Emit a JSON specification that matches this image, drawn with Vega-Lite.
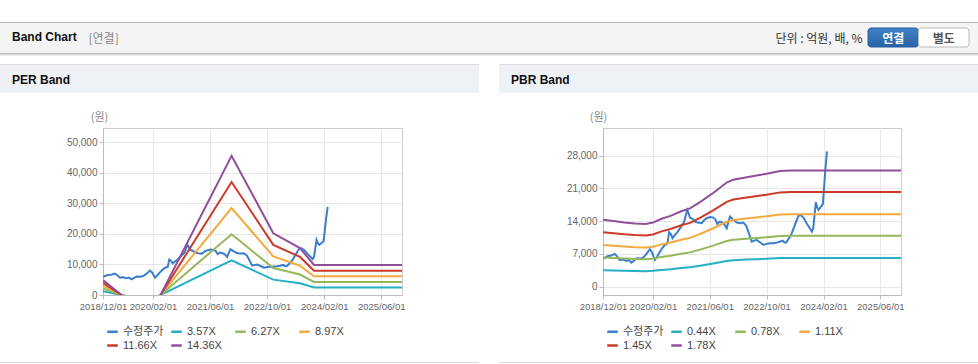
{
  "$schema": "https://vega.github.io/schema/vega-lite/v6.json",
  "background": "#ffffff",
  "padding": {"left": 0, "top": 22, "right": 0, "bottom": 0},
  "spacing": 0,
  "bounds": "flush",
  "resolve": {"scale": {"color": "independent"}, "legend": {"color": "independent"}},
  "config": {
    "view": {"stroke": null},
    "font": "Liberation Sans",
    "title": {"anchor": "start", "frame": "group"}
  },
  "datasets": {
    "price": [
      {"d": "2018-12-01", "v": 6000}, {"d": "2018-12-25", "v": 6300}, {"d": "2019-01-13", "v": 6570}, {"d": "2019-02-10", "v": 6650},
      {"d": "2019-03-11", "v": 7000}, {"d": "2019-03-28", "v": 6600}, {"d": "2019-04-23", "v": 5720}, {"d": "2019-05-20", "v": 5800},
      {"d": "2019-06-20", "v": 5500}, {"d": "2019-07-10", "v": 5700}, {"d": "2019-08-02", "v": 5140}, {"d": "2019-08-25", "v": 5600},
      {"d": "2019-09-14", "v": 6080}, {"d": "2019-10-15", "v": 6000}, {"d": "2019-11-09", "v": 6210}, {"d": "2019-12-05", "v": 6900},
      {"d": "2020-01-06", "v": 8000}, {"d": "2020-01-25", "v": 7300}, {"d": "2020-02-18", "v": 5720}, {"d": "2020-03-05", "v": 6300},
      {"d": "2020-03-25", "v": 7150}, {"d": "2020-04-20", "v": 8200}, {"d": "2020-05-13", "v": 8930}, {"d": "2020-06-05", "v": 9200},
      {"d": "2020-06-19", "v": 11640}, {"d": "2020-07-05", "v": 11200}, {"d": "2020-07-18", "v": 10360}, {"d": "2020-08-05", "v": 11000},
      {"d": "2020-08-27", "v": 11560}, {"d": "2020-09-15", "v": 12300}, {"d": "2020-10-04", "v": 13000}, {"d": "2020-10-25", "v": 13800},
      {"d": "2020-11-21", "v": 16420}, {"d": "2020-12-01", "v": 15800}, {"d": "2020-12-14", "v": 14770}, {"d": "2021-01-05", "v": 14500},
      {"d": "2021-01-26", "v": 13920}, {"d": "2021-02-20", "v": 13700}, {"d": "2021-03-24", "v": 13570}, {"d": "2021-04-15", "v": 14200},
      {"d": "2021-05-06", "v": 14640}, {"d": "2021-06-05", "v": 14900}, {"d": "2021-07-02", "v": 14770}, {"d": "2021-07-20", "v": 14400},
      {"d": "2021-08-05", "v": 13420}, {"d": "2021-08-25", "v": 13900}, {"d": "2021-09-12", "v": 13790}, {"d": "2021-10-05", "v": 13300},
      {"d": "2021-10-25", "v": 12500}, {"d": "2021-11-05", "v": 13500}, {"d": "2021-11-22", "v": 14990}, {"d": "2021-12-05", "v": 14700},
      {"d": "2021-12-20", "v": 14280}, {"d": "2022-01-20", "v": 13700}, {"d": "2022-02-16", "v": 13570}, {"d": "2022-03-16", "v": 13700},
      {"d": "2022-04-10", "v": 13000}, {"d": "2022-04-28", "v": 11780}, {"d": "2022-05-15", "v": 10500}, {"d": "2022-05-27", "v": 9630},
      {"d": "2022-06-15", "v": 9800}, {"d": "2022-07-09", "v": 10000}, {"d": "2022-08-05", "v": 9500}, {"d": "2022-09-04", "v": 8930},
      {"d": "2022-10-01", "v": 9150}, {"d": "2022-10-31", "v": 9290}, {"d": "2022-12-01", "v": 9300}, {"d": "2022-12-28", "v": 9420},
      {"d": "2023-01-20", "v": 9600}, {"d": "2023-02-17", "v": 9850}, {"d": "2023-03-01", "v": 9500}, {"d": "2023-03-17", "v": 9420},
      {"d": "2023-04-10", "v": 10300}, {"d": "2023-05-05", "v": 11430}, {"d": "2023-06-01", "v": 13200}, {"d": "2023-07-01", "v": 15140},
      {"d": "2023-07-20", "v": 15300}, {"d": "2023-08-13", "v": 14770}, {"d": "2023-09-10", "v": 13500}, {"d": "2023-10-24", "v": 11780},
      {"d": "2023-11-05", "v": 12500}, {"d": "2023-11-27", "v": 18070}, {"d": "2023-12-08", "v": 17000}, {"d": "2023-12-20", "v": 16420},
      {"d": "2024-01-10", "v": 17100}, {"d": "2024-01-26", "v": 17640}, {"d": "2024-02-05", "v": 21000}, {"d": "2024-02-15", "v": 24620},
      {"d": "2024-03-01", "v": 28900}
    ],
    "per": [
      {"d": "2018-12-01", "s": "3.57X", "v": 1214}, {"d": "2018-12-01", "s": "6.27X", "v": 2132}, {"d": "2018-12-01", "s": "8.97X", "v": 3050}, {"d": "2018-12-01", "s": "11.66X", "v": 3964}, {"d": "2018-12-01", "s": "14.36X", "v": 4882},
      {"d": "2019-08-01", "s": "3.57X", "v": -664}, {"d": "2019-08-01", "s": "6.27X", "v": -1166}, {"d": "2019-08-01", "s": "8.97X", "v": -1668}, {"d": "2019-08-01", "s": "11.66X", "v": -2169}, {"d": "2019-08-01", "s": "14.36X", "v": -2671},
      {"d": "2020-01-01", "s": "3.57X", "v": -1778}, {"d": "2020-01-01", "s": "6.27X", "v": -3122}, {"d": "2020-01-01", "s": "8.97X", "v": -4467}, {"d": "2020-01-01", "s": "11.66X", "v": -5807}, {"d": "2020-01-01", "s": "14.36X", "v": -7151},
      {"d": "2021-12-02", "s": "3.57X", "v": 11335}, {"d": "2021-12-02", "s": "6.27X", "v": 19907}, {"d": "2021-12-02", "s": "8.97X", "v": 28480}, {"d": "2021-12-02", "s": "11.66X", "v": 37021}, {"d": "2021-12-02", "s": "14.36X", "v": 45593},
      {"d": "2022-11-23", "s": "3.57X", "v": 5030}, {"d": "2022-11-23", "s": "6.27X", "v": 8834}, {"d": "2022-11-23", "s": "8.97X", "v": 12639}, {"d": "2022-11-23", "s": "11.66X", "v": 16429}, {"d": "2022-11-23", "s": "14.36X", "v": 20233},
      {"d": "2023-07-09", "s": "3.57X", "v": 3820}, {"d": "2023-07-09", "s": "6.27X", "v": 6709}, {"d": "2023-07-09", "s": "8.97X", "v": 9598}, {"d": "2023-07-09", "s": "11.66X", "v": 12476}, {"d": "2023-07-09", "s": "14.36X", "v": 15365},
      {"d": "2023-11-05", "s": "3.57X", "v": 2445}, {"d": "2023-11-05", "s": "6.27X", "v": 4295}, {"d": "2023-11-05", "s": "8.97X", "v": 6144}, {"d": "2023-11-05", "s": "11.66X", "v": 7987}, {"d": "2023-11-05", "s": "14.36X", "v": 9837},
      {"d": "2025-11-25", "s": "3.57X", "v": 2445}, {"d": "2025-11-25", "s": "6.27X", "v": 4295}, {"d": "2025-11-25", "s": "8.97X", "v": 6144}, {"d": "2025-11-25", "s": "11.66X", "v": 7987}, {"d": "2025-11-25", "s": "14.36X", "v": 9837}
    ],
    "pbr": [
      {"d": "2018-12-01", "s": "0.44X", "v": 3533}, {"d": "2018-12-01", "s": "0.78X", "v": 6263}, {"d": "2018-12-01", "s": "1.11X", "v": 8913}, {"d": "2018-12-01", "s": "1.45X", "v": 11644}, {"d": "2018-12-01", "s": "1.78X", "v": 14293},
      {"d": "2019-03-01", "s": "0.44X", "v": 3467}, {"d": "2019-03-01", "s": "0.78X", "v": 6146}, {"d": "2019-03-01", "s": "1.11X", "v": 8747}, {"d": "2019-03-01", "s": "1.45X", "v": 11426}, {"d": "2019-03-01", "s": "1.78X", "v": 14026},
      {"d": "2019-06-01", "s": "0.44X", "v": 3397}, {"d": "2019-06-01", "s": "0.78X", "v": 6022}, {"d": "2019-06-01", "s": "1.11X", "v": 8569}, {"d": "2019-06-01", "s": "1.45X", "v": 11194}, {"d": "2019-06-01", "s": "1.78X", "v": 13742},
      {"d": "2019-09-01", "s": "0.44X", "v": 3344}, {"d": "2019-09-01", "s": "0.78X", "v": 5928}, {"d": "2019-09-01", "s": "1.11X", "v": 8436}, {"d": "2019-09-01", "s": "1.45X", "v": 11020}, {"d": "2019-09-01", "s": "1.78X", "v": 13528},
      {"d": "2019-12-01", "s": "0.44X", "v": 3318}, {"d": "2019-12-01", "s": "0.78X", "v": 5881}, {"d": "2019-12-01", "s": "1.11X", "v": 8369}, {"d": "2019-12-01", "s": "1.45X", "v": 10933}, {"d": "2019-12-01", "s": "1.78X", "v": 13421},
      {"d": "2020-02-01", "s": "0.44X", "v": 3388}, {"d": "2020-02-01", "s": "0.78X", "v": 6006}, {"d": "2020-02-01", "s": "1.11X", "v": 8547}, {"d": "2020-02-01", "s": "1.45X", "v": 11165}, {"d": "2020-02-01", "s": "1.78X", "v": 13706},
      {"d": "2020-04-15", "s": "0.44X", "v": 3586}, {"d": "2020-04-15", "s": "0.78X", "v": 6357}, {"d": "2020-04-15", "s": "1.11X", "v": 9047}, {"d": "2020-04-15", "s": "1.45X", "v": 11818}, {"d": "2020-04-15", "s": "1.78X", "v": 14507},
      {"d": "2020-07-01", "s": "0.44X", "v": 3740}, {"d": "2020-07-01", "s": "0.78X", "v": 6630}, {"d": "2020-07-01", "s": "1.11X", "v": 9435}, {"d": "2020-07-01", "s": "1.45X", "v": 12325}, {"d": "2020-07-01", "s": "1.78X", "v": 15130},
      {"d": "2020-10-01", "s": "0.44X", "v": 3982}, {"d": "2020-10-01", "s": "0.78X", "v": 7059}, {"d": "2020-10-01", "s": "1.11X", "v": 10046}, {"d": "2020-10-01", "s": "1.45X", "v": 13123}, {"d": "2020-10-01", "s": "1.78X", "v": 16109},
      {"d": "2020-12-15", "s": "0.44X", "v": 4136}, {"d": "2020-12-15", "s": "0.78X", "v": 7332}, {"d": "2020-12-15", "s": "1.11X", "v": 10434}, {"d": "2020-12-15", "s": "1.45X", "v": 13630}, {"d": "2020-12-15", "s": "1.78X", "v": 16732},
      {"d": "2021-03-10", "s": "0.44X", "v": 4466}, {"d": "2021-03-10", "s": "0.78X", "v": 7917}, {"d": "2021-03-10", "s": "1.11X", "v": 11267}, {"d": "2021-03-10", "s": "1.45X", "v": 14718}, {"d": "2021-03-10", "s": "1.78X", "v": 18067},
      {"d": "2021-07-01", "s": "0.44X", "v": 4950}, {"d": "2021-07-01", "s": "0.78X", "v": 8775}, {"d": "2021-07-01", "s": "1.11X", "v": 12488}, {"d": "2021-07-01", "s": "1.45X", "v": 16313}, {"d": "2021-07-01", "s": "1.78X", "v": 20025},
      {"d": "2021-10-25", "s": "0.44X", "v": 5500}, {"d": "2021-10-25", "s": "0.78X", "v": 9750}, {"d": "2021-10-25", "s": "1.11X", "v": 13875}, {"d": "2021-10-25", "s": "1.45X", "v": 18125}, {"d": "2021-10-25", "s": "1.78X", "v": 22250},
      {"d": "2021-12-20", "s": "0.44X", "v": 5654}, {"d": "2021-12-20", "s": "0.78X", "v": 10023}, {"d": "2021-12-20", "s": "1.11X", "v": 14264}, {"d": "2021-12-20", "s": "1.45X", "v": 18633}, {"d": "2021-12-20", "s": "1.78X", "v": 22873},
      {"d": "2022-04-15", "s": "0.44X", "v": 5786}, {"d": "2022-04-15", "s": "0.78X", "v": 10257}, {"d": "2022-04-15", "s": "1.11X", "v": 14597}, {"d": "2022-04-15", "s": "1.45X", "v": 19068}, {"d": "2022-04-15", "s": "1.78X", "v": 23407},
      {"d": "2022-10-01", "s": "0.44X", "v": 5962}, {"d": "2022-10-01", "s": "0.78X", "v": 10569}, {"d": "2022-10-01", "s": "1.11X", "v": 15041}, {"d": "2022-10-01", "s": "1.45X", "v": 19648}, {"d": "2022-10-01", "s": "1.78X", "v": 24119},
      {"d": "2023-01-25", "s": "0.44X", "v": 6116}, {"d": "2023-01-25", "s": "0.78X", "v": 10842}, {"d": "2023-01-25", "s": "1.11X", "v": 15429}, {"d": "2023-01-25", "s": "1.45X", "v": 20155}, {"d": "2023-01-25", "s": "1.78X", "v": 24742},
      {"d": "2023-05-01", "s": "0.44X", "v": 6138}, {"d": "2023-05-01", "s": "0.78X", "v": 10881}, {"d": "2023-05-01", "s": "1.11X", "v": 15485}, {"d": "2023-05-01", "s": "1.45X", "v": 20228}, {"d": "2023-05-01", "s": "1.78X", "v": 24831},
      {"d": "2025-11-25", "s": "0.44X", "v": 6138}, {"d": "2025-11-25", "s": "0.78X", "v": 10881}, {"d": "2025-11-25", "s": "1.11X", "v": 15485}, {"d": "2025-11-25", "s": "1.45X", "v": 20228}, {"d": "2025-11-25", "s": "1.78X", "v": 24831}
    ]
  },
  "vconcat": [
    {"width": 978, "height": 1, "view": {"fill": "#b7b7b7"}, "data": {"values": []}, "mark": "rect"},
    {
      "width": 978, "height": 30,
      "view": {"fill": "#f4f4f4"},
      "title": {"text": "Band Chart", "offset": -21, "dx": 12, "fontSize": 12, "fontWeight": "bold", "color": "#111111", "font": "Liberation Sans"},
      "layer": [
        {
          "data": {"values": [{"btn": "연결"}]},
          "mark": {"type": "rect", "cornerRadius": 3, "stroke": "#2a5e9b", "strokeWidth": 1,
            "fill": {"gradient": "linear", "x1": 0, "y1": 0, "x2": 0, "y2": 1, "stops": [{"offset": 0, "color": "#3f82c8"}, {"offset": 1, "color": "#2962a4"}]}},
          "encoding": {
            "x": {"field": "btn", "type": "nominal",
              "scale": {"domain": ["연결", "별도"], "range": [868, 969], "paddingInner": 0, "paddingOuter": 0},
              "axis": {"orient": "bottom", "offset": -15, "domain": false, "ticks": false, "tickSize": 0, "grid": false,
                "labelPadding": 0, "labelAngle": 0, "labelBaseline": "middle", "labelFont": "Noto Sans CJK KR", "labelFontSize": 12, "labelFontWeight": "bold",
                "labelColor": {"condition": {"test": "datum.value === '연결'", "value": "#ffffff"}, "value": "#555555"},
                "zindex": 2,
                "title": "단위 : 억원, 배, %", "titleX": 862, "titleY": 0, "titleAlign": "right", "titleBaseline": "middle", "titleAngle": 0,
                "titleFont": "Noto Sans CJK KR", "titleFontSize": 12, "titleFontWeight": "normal", "titleColor": "#333333"}},
            "y": {"datum": "b", "type": "nominal",
              "scale": {"range": [5, 24], "paddingInner": 0, "paddingOuter": 0},
              "axis": {"domain": false, "ticks": false, "labels": false, "grid": false,
                "title": "[연결]", "titleAngle": 0, "titleX": 88, "titleY": 15, "titleAlign": "left", "titleBaseline": "middle",
                "titleFont": "Noto Sans CJK KR", "titleFontSize": 12, "titleFontWeight": "normal", "titleColor": "#888888"}}
          }
        },
        {
          "data": {"values": [{"btn": "별도"}]},
          "mark": {"type": "rect", "cornerRadius": 3, "fill": "#ffffff", "stroke": "#b9b9b9", "strokeWidth": 1},
          "encoding": {
            "x": {"field": "btn", "type": "nominal"},
            "y": {"datum": "b", "type": "nominal"}
          }
        }
      ]
    },
    {"width": 978, "height": 1, "view": {"fill": "#bdbdbd"}, "data": {"values": []}, "mark": "rect"},
    {"width": 978, "height": 1, "view": {"fill": "#d9d9d9"}, "data": {"values": []}, "mark": "rect"},
    {"width": 978, "height": 1, "view": {"fill": "#ededed"}, "data": {"values": []}, "mark": "rect"},
    {"width": 978, "height": 8, "data": {"values": []}, "mark": "rect"},
    {
      "hconcat": [
        {"width": 479, "height": 1, "view": {"fill": "#dddddd"}, "data": {"values": []}, "mark": "rect"},
        {"width": 20, "height": 1, "data": {"values": []}, "mark": "rect"},
        {"width": 479, "height": 1, "view": {"fill": "#dddddd"}, "data": {"values": []}, "mark": "rect"}
      ],
      "spacing": 0, "bounds": "flush"
    },
    {"width": 978, "height": 1, "data": {"values": []}, "mark": "rect"},
    {
      "hconcat": [
        {"width": 479, "height": 28, "view": {"fill": "#eef2f7"},
          "title": {"text": "PER Band", "offset": -22, "dx": 12, "fontSize": 12, "fontWeight": "bold", "color": "#111111", "font": "Liberation Sans"},
          "data": {"values": []}, "mark": "rect"},
        {"width": 20, "height": 28, "data": {"values": []}, "mark": "rect"},
        {"width": 479, "height": 28, "view": {"fill": "#eef2f7"},
          "title": {"text": "PBR Band", "offset": -22, "dx": 12, "fontSize": 12, "fontWeight": "bold", "color": "#111111", "font": "Liberation Sans"},
          "data": {"values": []}, "mark": "rect"}
      ],
      "spacing": 0, "bounds": "flush"
    },
    {"width": 978, "height": 63, "data": {"values": []}, "mark": "rect"},
    {
      "hconcat": [
        {"width": 103, "height": 167, "data": {"values": []}, "mark": "rect"},
        {
          "width": 299, "height": 167,
          "view": {"stroke": "#cccccc"},
          "encoding": {
            "x": {"field": "d", "type": "temporal",
              "scale": {"type": "utc", "domain": [{"year": 2018, "month": 12, "date": 1, "utc": true}, {"year": 2025, "month": 11, "date": 25, "utc": true}]},
              "axis": {"values": [{"year": 2018, "month": 12, "date": 1, "utc": true}, {"year": 2020, "month": 2, "date": 1, "utc": true}, {"year": 2021, "month": 6, "date": 1, "utc": true}, {"year": 2022, "month": 10, "date": 1, "utc": true}, {"year": 2024, "month": 2, "date": 1, "utc": true}, {"year": 2025, "month": 6, "date": 1, "utc": true}],
                "format": "%Y/%m/%d", "labelFont": "Liberation Sans", "labelFontSize": 9.5, "labelColor": "#666666", "labelPadding": 2, "labelFlush": false, "labelOverlap": false,
                "tickSize": 4, "tickColor": "#bbbbbb", "domainColor": "#bbbbbb", "grid": true, "gridColor": "#e8e8e8", "title": null}},
            "y": {"field": "v", "type": "quantitative",
              "scale": {"domain": [0, 54730], "nice": false, "zero": false},
              "axis": {"values": [0, 10000, 20000, 30000, 40000, 50000], "format": ",d", "labelFont": "Liberation Sans", "labelFontSize": 10, "labelColor": "#666666", "labelPadding": 2, "labelOverlap": false,
                "tickSize": 4, "tickColor": "#bbbbbb", "domainColor": "#bbbbbb", "grid": true, "gridColor": "#e6e6e6", "gridOpacity": 1, "gridWidth": 1,
                "title": "(원)", "titleAngle": 0, "titleX": -4, "titleY": -11, "titleAlign": "center", "titleBaseline": "middle",
                "titleFont": "Noto Sans CJK KR", "titleFontSize": 11, "titleFontWeight": "normal", "titleColor": "#888888"}}
          },
          "layer": [
            {
              "data": {"name": "price"},
              "mark": {"type": "line", "strokeWidth": 2, "clip": true},
              "encoding": {
                "color": {"datum": "수정주가", "type": "nominal", "title": null,
                  "scale": {"domain": ["수정주가", "3.57X", "6.27X", "8.97X", "11.66X", "14.36X"], "range": ["#3b7ecb", "#25b0c6", "#94b85b", "#f3a93e", "#cd3a28", "#914e9b"]},
                  "legend": {"orient": "none", "legendX": 3, "legendY": 197, "direction": "horizontal", "columns": 4, "gridAlign": "all", "columnPadding": 2, "rowPadding": 2,
                    "symbolType": "stroke", "symbolSize": 110, "symbolStrokeWidth": 2.5, "labelFont": "Liberation Sans, Noto Sans CJK KR", "labelFontSize": 11, "labelColor": "#444444",
                    "labelOffset": 4, "padding": 0, "title": null}}
              }
            },
            {
              "data": {"name": "per"},
              "mark": {"type": "line", "strokeWidth": 2, "clip": true},
              "encoding": {
                "color": {"field": "s", "type": "nominal", "title": null}
              }
            }
          ]
        },
        {"width": 201, "height": 167, "data": {"values": []}, "mark": "rect"},
        {
          "width": 298, "height": 167,
          "view": {"stroke": "#cccccc"},
          "encoding": {
            "x": {"field": "d", "type": "temporal",
              "scale": {"type": "utc", "domain": [{"year": 2018, "month": 12, "date": 1, "utc": true}, {"year": 2025, "month": 11, "date": 25, "utc": true}]},
              "axis": {"values": [{"year": 2018, "month": 12, "date": 1, "utc": true}, {"year": 2020, "month": 2, "date": 1, "utc": true}, {"year": 2021, "month": 6, "date": 1, "utc": true}, {"year": 2022, "month": 10, "date": 1, "utc": true}, {"year": 2024, "month": 2, "date": 1, "utc": true}, {"year": 2025, "month": 6, "date": 1, "utc": true}],
                "format": "%Y/%m/%d", "labelFont": "Liberation Sans", "labelFontSize": 9.5, "labelColor": "#666666", "labelPadding": 2, "labelFlush": false, "labelOverlap": false,
                "tickSize": 4, "tickColor": "#bbbbbb", "domainColor": "#bbbbbb", "grid": true, "gridColor": "#e8e8e8", "title": null}},
            "y": {"field": "v", "type": "quantitative",
              "scale": {"domain": [-1777, 33914], "nice": false, "zero": false},
              "axis": {"values": [0, 7000, 14000, 21000, 28000], "format": ",d", "labelFont": "Liberation Sans", "labelFontSize": 10, "labelColor": "#666666", "labelPadding": 2, "labelOverlap": false,
                "tickSize": 4, "tickColor": "#bbbbbb", "domainColor": "#bbbbbb", "grid": true, "gridColor": "#e6e6e6", "gridOpacity": 1, "gridWidth": 1,
                "title": "(원)", "titleAngle": 0, "titleX": -5, "titleY": -11, "titleAlign": "center", "titleBaseline": "middle",
                "titleFont": "Noto Sans CJK KR", "titleFontSize": 11, "titleFontWeight": "normal", "titleColor": "#888888"}}
          },
          "layer": [
            {
              "data": {"name": "price"},
              "mark": {"type": "line", "strokeWidth": 2, "clip": true},
              "encoding": {
                "color": {"datum": "수정주가", "type": "nominal", "title": null,
                  "scale": {"domain": ["수정주가", "0.44X", "0.78X", "1.11X", "1.45X", "1.78X"], "range": ["#3b7ecb", "#25b0c6", "#94b85b", "#f3a93e", "#cd3a28", "#914e9b"]},
                  "legend": {"orient": "none", "legendX": 3, "legendY": 197, "direction": "horizontal", "columns": 4, "gridAlign": "all", "columnPadding": 2, "rowPadding": 2,
                    "symbolType": "stroke", "symbolSize": 110, "symbolStrokeWidth": 2.5, "labelFont": "Liberation Sans, Noto Sans CJK KR", "labelFontSize": 11, "labelColor": "#444444",
                    "labelOffset": 4, "padding": 0, "title": null}}
              }
            },
            {
              "data": {"name": "pbr"},
              "mark": {"type": "line", "strokeWidth": 2, "clip": true},
              "encoding": {
                "color": {"field": "s", "type": "nominal", "title": null}
              }
            }
          ]
        }
      ],
      "spacing": 0, "bounds": "flush",
      "resolve": {"scale": {"color": "independent"}, "legend": {"color": "independent"}}
    },
    {"width": 978, "height": 234, "data": {"values": []}, "mark": "rect"},
    {
      "hconcat": [
        {"width": 479, "height": 1, "view": {"fill": "#dcdcdc"}, "data": {"values": []}, "mark": "rect"},
        {"width": 20, "height": 1, "data": {"values": []}, "mark": "rect"},
        {"width": 479, "height": 1, "view": {"fill": "#dcdcdc"}, "data": {"values": []}, "mark": "rect"}
      ],
      "spacing": 0, "bounds": "flush"
    }
  ]
}
